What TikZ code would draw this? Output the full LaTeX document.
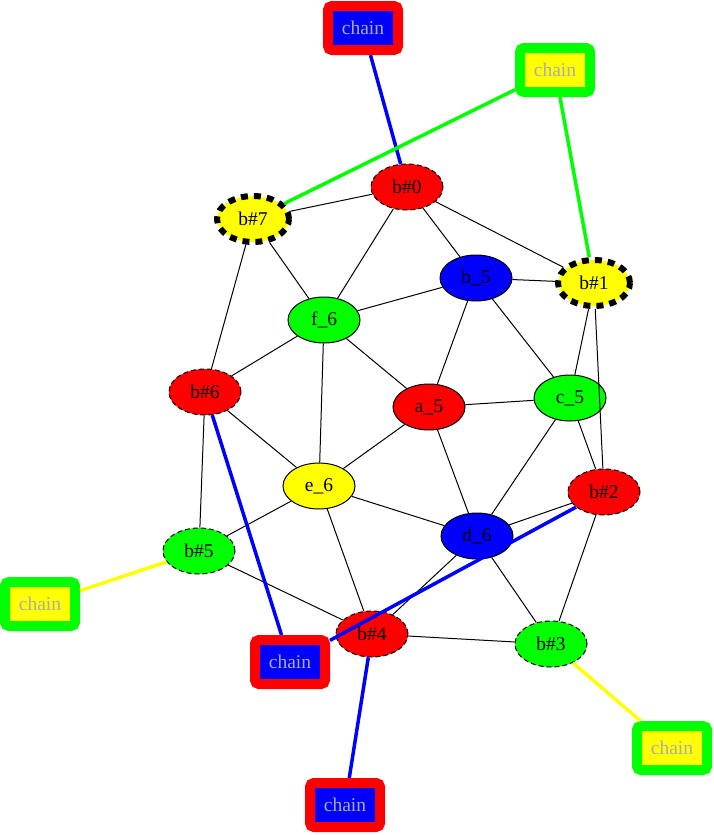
\documentclass[tikz,border=0pt]{standalone}
\usepackage{fontspec}
\setmainfont{Liberation Serif}
\usetikzlibrary{shapes.geometric}
\definecolor{cred}{RGB}{255,0,0}
\definecolor{cblue}{RGB}{0,0,255}
\definecolor{cgreen}{RGB}{0,255,0}
\definecolor{cyellow}{RGB}{255,255,0}
\definecolor{cgray}{RGB}{172,172,172}
\tikzset{
  vert/.style={ellipse, draw=black, line width=1pt, minimum width=72pt, minimum height=46pt, inner sep=0pt, font=\fontsize{19.5}{22}\selectfont},
  thindash/.style={dash pattern=on 5pt off 3pt},
  thickdash/.style={line width=6pt, dash pattern=on 7pt off 6pt},
  chainbox/.style={rectangle, rounded corners=4pt, line width=10pt, minimum width=70pt, minimum height=44pt, inner sep=0pt, text=cgray, font=\fontsize{19.5}{22}\selectfont},
  redchain/.style={chainbox, draw=cred, fill=cblue},
  greenchain/.style={chainbox, draw=cgreen, fill=cyellow},
  plain/.style={draw=black, line width=1pt},
  fat/.style={line width=3.5pt},
}
\begin{document}
\begin{tikzpicture}[x=1pt,y=-1pt]
\useasboundingbox (0,0) rectangle (714,835);
% nodes
\node[vert, fill=cred, thindash] (b0) at (407,187) {b\#0};
\node[vert, fill=cyellow, thickdash] (b7) at (253,219) {b\#7};
\node[vert, fill=cblue] (b5) at (476,278) {b\_5};
\node[vert, fill=cyellow, thickdash] (b1) at (594,283) {b\#1};
\node[vert, fill=cgreen] (f6) at (324,320) {f\_6};
\node[vert, fill=cred, thindash] (b6) at (205,392) {b\#6};
\node[vert, fill=cred] (a5) at (429,407) {a\_5};
\node[vert, fill=cgreen] (c5) at (570,398) {c\_5};
\node[vert, fill=cyellow] (e6) at (319,486) {e\_6};
\node[vert, fill=cred, thindash] (b2) at (604,492) {b\#2};
\node[vert, fill=cblue] (d6) at (477,536) {d\_6};
\node[vert, fill=cgreen, thindash] (b5h) at (199,551) {b\#5};
\node[vert, fill=cred, thindash] (b4) at (372,634) {b\#4};
\node[vert, fill=cgreen, thindash] (b3) at (551,644) {b\#3};
% chain boxes
\node[redchain] (ch1) at (363,28) {chain};
\node[greenchain] (ch2) at (555,70) {chain};
\node[greenchain] (ch3) at (40,604) {chain};
\node[redchain] (ch4) at (290,662) {chain};
\node[redchain] (ch5) at (345,805) {chain};
\node[greenchain] (ch6) at (672,748) {chain};
% black edges
\foreach \u/\v in {b0/b7, b0/f6, b0/b5, b0/b1, b7/f6, b7/b6, b5/b1, b5/f6, b5/a5, b5/c5,
  b1/c5, b1/b2, f6/b6, f6/a5, f6/e6, b6/e6, b6/b5h, a5/c5, a5/e6, a5/d6, c5/b2, c5/d6,
  e6/d6, e6/b5h, e6/b4, b2/d6, b2/b3, d6/b3, d6/b4, b5h/b4, b4/b3}
  \draw[plain] (\u) -- (\v);
% coloured edges
\draw[fat, draw=cblue] (ch1) -- (b0);
\draw[fat, draw=cgreen] (ch2) -- (b7);
\draw[fat, draw=cgreen] (ch2) -- (b1);
\draw[fat, draw=cblue] (b6) -- (ch4);
\draw[fat, draw=cblue] (ch4) -- (b2);
\draw[fat, draw=cblue] (b4) -- (ch5);
\draw[fat, draw=cyellow] (b5h) -- (ch3);
\draw[fat, draw=cyellow] (b3) -- (ch6);
\end{tikzpicture}
\end{document}
